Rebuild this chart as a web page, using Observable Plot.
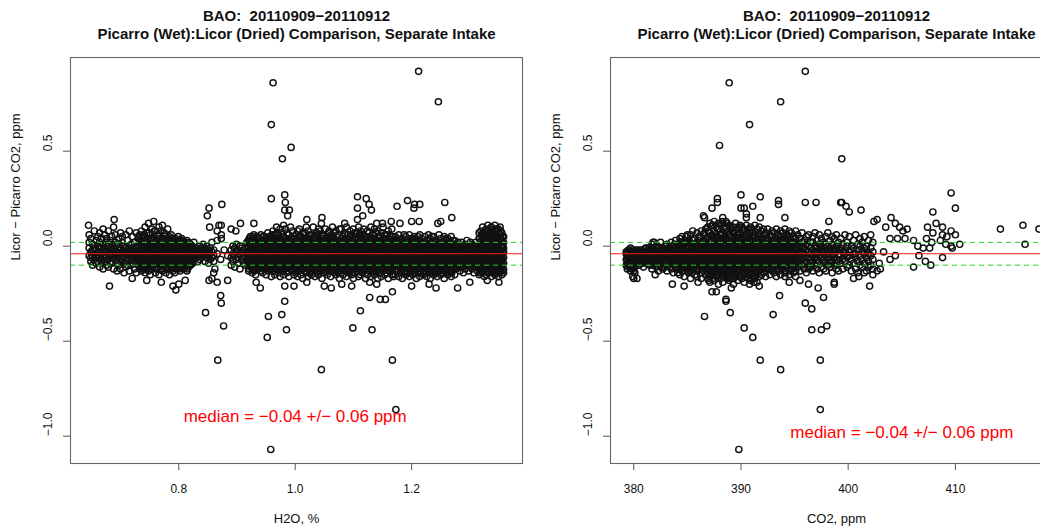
<!DOCTYPE html>
<html><head><meta charset="utf-8">
<script src="https://cdn.jsdelivr.net/npm/d3@7"></script>
<script src="https://cdn.jsdelivr.net/npm/@observablehq/plot@0.6"></script>
<style>
html,body{margin:0;padding:0;background:#fff;overflow:hidden}
#wrap{position:relative;width:1040px;height:527px;overflow:hidden;background:#fff}
#wrap svg{position:absolute;top:0}
#wrap svg text{white-space:pre}
</style></head><body><div id="wrap"></div>
<script>
// ---- text ----
const title1 = "BAO:  20110909\u221220110912";
const title2 = "Picarro (Wet):Licor (Dried) Comparison, Separate Intake";
const yLabel = "Licor \u2212 Picarro CO2, ppm";
const xLabelH2O = "H2O, %";
const xLabelCO2 = "CO2, ppm";
const median = -0.04;
const spread = 0.06;
const xTicksH2O = [0.8, 1.0, 1.2];
const xTicksCO2 = [380, 390, 400, 410];
const yTicks = [-1.0, -0.5, 0.0, 0.5];

// ---- H2O panel: columns [H2O in 0.001 %, then differences in 0.01 ppm] ----
const h2oColumns = [
[646,-1,6,-5,2],[649,-8,-3,4,-6],[652,-2,1,-10,-5],[655,8,-4,-1,-7],[658,3,-6,-2,-9],
[661,-3,5,-8,0,-5],[664,-1,-11,2,-6,7],[667,4,-4,-7,-1,-9],[670,-2,9,-5,1,-12],[673,6,-3,-8,-1,-6],
[676,-5,2,-10,-2,4],[679,0,-7,8,-3,-11],[682,-4,3,-6,-1,-9],[685,5,-2,-8,-5,1],[688,-1,10,-6,-3,-12],
[691,2,-4,-7,-2,6],[694,-3,-9,1,-5,-13],[697,4,-2,-6,-10,1],[700,-1,7,-4,-8,-12],[703,2,-3,-7,-5,5],
[706,-2,0,-9,-5,-14],[709,6,-1,-4,-8,-11],[712,3,-2,-6,-10,-4],[715,-1,8,-5,-3,-13],[718,1,-4,-7,-2,-10],
[721,5,-3,-6,-9,-1],[724,-2,2,-8,-5,-12],[727,7,-1,-4,-7,-14],[730,0,-3,-6,-10,4,-2],
[733,3,-2,-5,-8,-11,6,-4],[736,1,-4,-7,-10,8,-1,-13],[739,5,-1,-3,-6,-9,-12,2],[742,2,-2,-5,-8,10,-4,-14],
[745,7,0,-3,-6,-9,-11,-1],[748,4,-1,-4,-7,-10,12,-13],[751,1,-2,-5,-8,6,-3,-15],[754,9,3,-1,-4,-7,-10,-12],
[757,5,0,-3,-6,-9,13,-2],[760,2,-2,-5,-8,-11,8,-14],[763,6,1,-4,-6,-9,-3,-12],[766,3,-1,-3,-7,-10,10,-15],
[769,8,0,-2,-5,-8,-12,-4],[772,4,-2,-4,-6,-9,11,-13],[775,1,-1,-5,-7,-10,7,-3],[778,6,2,-3,-6,-8,-11,-14],
[781,3,-1,-4,-5,-9,9,-12],[784,5,0,-2,-6,-10,-7,-15],[787,2,-3,-5,-8,-11,6,-1],[790,4,-1,-4,-6,-9,-13,-2],
[793,1,-2,-5,-7,-10,3,-14],[796,3,0,-3,-6,-8,-12,-4],[799,5,-1,-4,-7,-9,-11,1],[802,2,-2,-3,-5,-8,-13,-6],
[805,0,-1,-4,-7,-10,4,-3],[808,3,-3,-5,-6,-9,-12,-1],[811,1,-2,-4,-8,-11,2,-6],[814,-1,-3,-5,-7,-10,3,-13],
[817,2,0,-4,-6,-9,-2,-11],[820,-2,-3,-5,-8,1,-10],[823,0,-4,-6,-2,-9],[826,-1,-3,-7,2,-5],
[830,-3,-6,-1],[833,-2,-5,-8],[836,0,-4,-7],[839,-3,-6,-1],[842,-2,-5,1],[845,-4,-8,-1],[848,-3,-6,0],
[851,-5,-2,-9],[854,-1,-4,-7],[857,-3,-6,2],[860,-2,-5,-8],[866,-4,3],[872,-7],[878,-2],[884,-5],
[890,-2,-6,-10],[893,-4,0,-8],[896,-1,-5,-11],[899,-3,-7,1],[902,-2,-6,-9],[905,0,-4,-12],[908,-3,-7,-1],
[911,-5,-2,-9],[914,-1,-6,-10],[917,-4,-8,2],
[920,3,-1,-4,-7,-10,-13,-3],[923,1,-2,-5,-8,-11,5,-6],[926,4,0,-3,-6,-9,-14,-2],[929,2,-1,-4,-7,-12,6,-5],
[932,0,-3,-5,-8,-10,3,-15],[935,5,-1,-4,-6,-9,-12,-2],[938,2,-2,-3,-7,-11,4,-6],[941,6,0,-4,-5,-8,-13,-1],
[944,3,-1,-3,-6,-10,-14,-4],[947,1,-2,-5,-7,-9,5,-12],[950,4,0,-3,-6,-8,-11,-15],[953,2,-1,-4,-5,-10,7,-13],
[956,5,-2,-3,-7,-9,-12,1],[959,3,0,-4,-6,-11,-16,-2],
[962,8,2,-1,-4,-7,-10,-13,-5],[965,4,0,-3,-6,-8,-11,6,-15],[968,10,3,-2,-4,-7,-9,-12,-1],[971,6,1,-3,-5,-8,-11,-14,-2],
[974,2,-1,-4,-6,-9,-12,9,-16],[977,7,3,-2,-5,-7,-10,-13,0],[980,5,0,-3,-6,-8,-11,11,-15],[983,9,2,-1,-4,-7,-9,-12,-5],
[986,3,-1,-4,-6,-10,-14,7,-2],[989,6,1,-2,-5,-8,-11,-16,-3],[992,4,0,-3,-6,-9,-12,10,-7],[995,8,2,-1,-4,-7,-10,-13,-5],
[998,5,-1,-3,-6,-8,-11,-15,1],
[1001,6,1,-2,-5,-8,-11,-14,-4],[1004,3,-1,-4,-6,-9,-12,8,-16],[1007,9,2,-3,-5,-7,-10,-13,0],[1010,5,0,-2,-6,-8,-11,-15,-4],
[1013,2,-1,-4,-7,-9,-12,7,-17],[1016,7,3,-3,-5,-8,-10,-13,-1],[1019,4,0,-2,-6,-9,-14,10,-5],[1022,8,1,-3,-4,-7,-11,-16,-2],
[1025,3,-1,-4,-6,-8,-12,6,-14],[1028,6,2,-2,-5,-9,-10,-15,0],[1031,10,4,-1,-4,-7,-11,-13,-6],[1034,5,0,-3,-6,-8,-12,-16,2],
[1037,7,1,-2,-5,-9,-10,-14,-4],[1040,3,-1,-4,-7,-8,-11,9,-15],[1043,8,2,-3,-5,-6,-10,-13,-1],[1046,4,0,-2,-6,-9,-12,-17,6],
[1049,6,1,-4,-5,-7,-11,-14,-2],[1052,9,3,-1,-4,-8,-10,-13,-6],[1055,2,-1,-3,-6,-9,-12,-15,5],[1058,7,0,-2,-5,-7,-11,8,-4],
[1061,5,2,-4,-6,-10,-13,-16,-1],[1064,10,3,-1,-3,-6,-9,-12,-5],[1067,4,0,-3,-7,-8,-11,-14,7],[1070,8,1,-2,-5,-9,-12,-15,-4],
[1073,6,-1,-4,-6,-7,-10,-13,2],[1076,3,2,-3,-5,-8,-11,-17,9],[1079,9,0,-2,-4,-7,-9,-14,-6],[1082,5,1,-1,-6,-10,-12,-15,-3],
[1085,7,3,-4,-5,-8,-11,-13,0],[1088,10,2,-2,-3,-7,-9,-16,-5],[1091,4,-1,-3,-6,-9,-12,6,-14],[1094,8,1,0,-5,-8,-10,-13,-4],
[1097,6,3,-2,-4,-7,-11,-15,-1],[1100,9,2,-3,-6,-9,-12,-17,-5],[1103,5,0,-1,-4,-8,-10,-14,7],[1106,7,1,-2,-5,-6,-11,-13,-3],
[1109,10,4,-3,-4,-9,-12,-16,0],[1112,3,-1,-2,-6,-7,-10,-15,8],[1115,6,2,-4,-5,-8,-11,-14,-1],[1118,9,0,-1,-3,-7,-9,-13,-6],
[1121,5,1,-2,-6,-10,-12,-17,4],[1124,8,3,-3,-4,-8,-11,-15,-5],[1127,7,0,-1,-5,-6,-10,-13,-2],[1130,4,2,-4,-7,-9,-12,-16,10],
[1133,6,-1,-2,-3,-8,-11,-14,-5],[1136,9,1,-3,-5,-7,-9,-15,0],[1139,3,0,-1,-6,-10,-12,-13,7],[1142,8,2,-2,-4,-8,-11,-17,-6],
[1145,5,-1,-4,-5,-7,-10,-14,1],[1148,7,3,-3,-6,-9,-12,-16,-2],[1151,10,1,-1,-4,-8,-11,-13,-5],[1154,4,0,-2,-5,-6,-10,-15,6],
[1157,6,2,-3,-7,-9,-12,-14,-1],[1160,8,-1,-4,-5,-8,-11,-17,3],[1163,5,1,-2,-3,-7,-9,-13,-6],[1166,9,0,-1,-6,-10,-12,-15,2],
[1169,3,2,-3,-4,-8,-11,-16,-5],
[1172,5,0,-3,-6,-9,-12,-15],[1175,2,-2,-4,-7,-10,-13,4],[1178,6,1,-1,-5,-8,-11,-16],[1181,3,-1,-3,-6,-9,-14,-4],
[1184,4,0,-2,-7,-10,-12,-17],[1187,1,-2,-4,-5,-8,-11,6],[1190,5,2,-3,-6,-9,-13,-15],[1193,3,-1,-1,-4,-7,-10,-14],
[1196,6,0,-2,-5,-8,-12,-16],[1199,2,-3,-4,-6,-10,-11,4],[1202,4,1,-1,-7,-9,-13,-15],[1205,5,0,-2,-4,-8,-10,-14],
[1208,3,-1,-3,-5,-6,-12,-17],[1211,1,-2,-4,-7,-9,-11,5],[1214,6,2,-1,-5,-8,-13,-16],[1217,4,0,-3,-6,-10,-12,-4],
[1220,2,-1,-2,-4,-7,-11,-15],[1223,5,1,-4,-6,-9,-14,-2],[1226,3,0,-1,-5,-8,-10,-16],[1229,6,-2,-3,-7,-9,-12,-13],
[1232,4,1,-2,-4,-6,-11,-17],[1235,2,-1,-3,-6,-10,-13,5],[1238,5,0,-4,-5,-8,-12,-15],[1241,3,2,-1,-7,-9,-11,-14],
[1244,1,-2,-3,-4,-8,-10,-16],[1247,6,0,-2,-6,-9,-13,-5],[1250,4,1,-4,-5,-7,-12,-15],[1253,2,-1,-3,-6,-10,-11,-14],
[1256,5,0,-1,-4,-8,-13,-17],[1259,3,-2,-4,-7,-9,-12,4],[1262,4,1,-2,-5,-6,-10,-15],[1265,2,0,-3,-6,-8,-11,-14],
[1268,5,-1,-4,-5,-9,-13,-16],[1271,1,-2,-1,-7,-10,-12,3],[1274,3,0,-3,-4,-8,-11,-15],
[1277,1,-3,-6,-9,-12],[1280,-1,-4,-7,-10,2],[1283,0,-2,-5,-8,-13],[1286,2,-3,-6,-11,-4],[1289,-1,-5,-7,-9,-14],
[1292,1,-2,-4,-8,-12],[1295,3,-3,-6,-10,-1],[1298,0,-4,-5,-9,-13],[1301,-2,-3,-7,-11,2],[1304,1,-1,-5,-8,-12],
[1307,-1,-4,-6,-10,-14],[1310,2,-2,-7,-9,0],[1313,0,-3,-5,-11,-13],
[1316,4,0,-3,-6,-9,-12,7,-15],[1319,8,2,-2,-5,-8,-11,-14,-1],[1322,10,5,1,-4,-7,-10,-13,-3],[1325,6,3,-1,-3,-6,-9,-12,-16],
[1328,9,1,-2,-5,-8,-11,-15,4],[1331,11,6,0,-4,-7,-10,-13,-2],[1334,7,2,-3,-6,-9,-12,-14,5],[1337,10,4,-1,-5,-8,-11,-16,1],
[1340,8,3,0,-3,-6,-10,-13,-4],[1343,11,5,-2,-4,-7,-9,-12,-15],[1346,6,1,-1,-5,-8,-11,-14,9],[1349,9,4,-3,-6,-9,-12,-16,0],
[1352,10,2,-2,-4,-7,-10,-13,6],[1355,7,3,0,-5,-8,-11,-15,-1],[1358,5,-1,-3,-6,-9,-12,-14,2]
];
// further H2O readings inside the densest part of the cloud (same units)
const h2oDenseColumns = [
[731,0,-3,-7,-10,5],[734,-2,-6,-9,2,-12],[737,4,-1,-5,-8,-11],[740,0,-3,-7,-10,6],[743,-2,-5,-9,3,-12],
[746,2,-1,-4,-8,-11],[749,0,-3,-6,-9,7],[752,-2,-5,-10,4,-12],[755,3,-1,-4,-8,-11],[758,1,-3,-7,-9,8],
[761,-1,-5,-8,3,-12],[764,4,0,-4,-7,-11],[767,1,-3,-6,-9,6],[770,-1,-5,-8,3,-12],[773,2,0,-4,-7,-11],
[776,1,-3,-6,-9,5],[779,-1,-4,-8,3,-12],[782,2,0,-3,-7,-11],[785,1,-3,-6,-9,4],[788,-1,-4,-8,2,-12],
[791,2,0,-3,-7,-11],[794,0,-2,-6,-9,4],[797,-1,-4,-8,2,-11],[800,1,-3,-6,-9,-12],[803,0,-2,-7,-10,3],
[806,-2,-4,-8,1,-11],[809,0,-3,-6,-9,2],[812,-1,-4,-7,-10,1],[815,0,-2,-6,-9,-12],[818,-1,-4,-7,1,-10],
[821,0,-3,-6,-8],[824,-2,-4,-7,-9],
[921,1,-3,-6,-9,-12,4],[924,-1,-4,-7,-10,3,0],[927,2,-2,-5,-9,-12,5],[930,0,-3,-6,-10,-13,3],[933,-1,-4,-8,-11,2,-2],
[936,1,-2,-5,-9,-12,4],[939,0,-3,-7,-10,2,-1],[942,-2,-5,-8,-11,3,1],[945,1,-2,-6,-9,-12,5],[948,0,-3,-7,-10,3,-1],
[951,-1,-4,-8,-11,2,1],[954,1,-3,-6,-9,-12,4],[957,-1,-4,-7,-10,3,0],[960,2,-2,-5,-9,-12,6],[963,0,-3,-6,-10,-13,5],
[966,-1,-4,-8,-11,2,3],[969,1,-2,-5,-9,-12,7],[972,0,-3,-7,-10,4,-1],[975,-2,-5,-8,-11,3,1],[978,1,-3,-6,-9,-12,5],
[981,0,-4,-7,-10,2,-2],[984,-1,-3,-5,-8,-11,4],[987,2,-2,-6,-9,-13,0],[990,0,-4,-7,-10,3,-1],[993,-1,-3,-5,-8,-12,2],
[996,1,-4,-6,-9,-11,4],
[1002,0,-3,-7,-10,-13,4],[1005,-2,-5,-8,-11,2,-1],[1008,1,-3,-6,-9,-12,5],[1011,-1,-4,-7,-10,3,0],
[1014,2,-2,-5,-9,-12,6],[1017,0,-3,-6,-10,-13,3],[1020,-1,-4,-8,-11,2,1],[1023,1,-2,-5,-9,-12,4],
[1026,0,-3,-7,-10,-14,3],[1029,-2,-5,-8,-11,1,-1],[1032,1,-3,-6,-9,-12,5],[1035,-1,-4,-7,-10,3,0],
[1038,2,-2,-5,-8,-12,6],[1041,0,-3,-6,-10,-13,4],[1044,-1,-4,-8,-11,2,1],[1047,1,-2,-5,-9,-12,5],
[1050,0,-3,-7,-10,-14,3],[1053,-2,-5,-8,-11,2,-1],[1056,1,-3,-6,-9,-12,4],[1059,-1,-4,-7,-10,3,0],
[1062,2,-2,-5,-8,-12,6],[1065,0,-3,-6,-10,-13,4],[1068,-1,-4,-8,-11,2,1],[1071,1,-2,-5,-9,-12,5],
[1074,0,-3,-7,-10,-14,3],[1077,-2,-5,-8,-11,1,-1],[1080,1,-3,-6,-9,-12,4],[1083,-1,-4,-7,-10,3,0],
[1086,2,-2,-5,-8,-12,6],[1089,0,-3,-6,-10,-13,4],[1092,-1,-4,-8,-11,2,1],[1095,1,-2,-5,-9,-12,5],
[1098,0,-3,-7,-10,-14,3],[1101,-2,-5,-8,-11,2,-1],[1104,1,-3,-6,-9,-12,4],[1107,-1,-4,-7,-10,3,0],
[1110,2,-2,-5,-8,-12,6],[1113,0,-3,-6,-10,-13,4],[1116,-1,-4,-8,-11,2,1],[1119,1,-2,-5,-9,-12,5],
[1122,0,-3,-7,-10,-14,3],[1125,-2,-5,-8,-11,1,-1],[1128,1,-3,-6,-9,-12,4],[1131,-1,-4,-7,-10,3,0],
[1134,2,-2,-5,-8,-12,6],[1137,0,-3,-6,-10,-13,4],[1140,-1,-4,-8,-11,2,1],[1143,1,-2,-5,-9,-12,5],
[1146,0,-3,-7,-10,-14,3],[1149,-2,-5,-8,-11,2,-1],[1152,1,-3,-6,-9,-12,4],[1155,-1,-4,-7,-10,3,0],
[1158,2,-2,-5,-8,-12,6],[1161,0,-3,-6,-10,-13,4],[1164,-1,-4,-8,-11,2,1],[1167,1,-2,-5,-9,-12,5],
[1173,-1,-4,-7,-10,-13,2],[1176,0,-3,-6,-9,-12,1],[1179,-2,-5,-8,-11,3,0],[1182,1,-3,-6,-10,-13,-1],
[1185,-1,-4,-7,-9,-12,2],[1188,0,-2,-5,-8,-11,-14],[1191,-1,-4,-6,-10,1,-13],[1194,0,-3,-7,-9,-12,2],
[1197,-2,-5,-8,-11,-14,1],[1200,1,-3,-6,-9,-12,0],[1203,-1,-4,-7,-10,-13,3],[1206,0,-2,-5,-8,-11,-14],
[1209,-2,-4,-6,-9,-12,1],[1212,0,-3,-7,-10,-13,2],[1215,-1,-5,-8,-11,0,-14],[1218,1,-2,-6,-9,-12,-3],
[1221,-1,-4,-7,-10,-13,2],[1224,0,-3,-5,-8,-11,-14],[1227,-2,-4,-6,-9,-12,1],[1230,0,-3,-7,-10,-13,3],
[1233,-1,-5,-8,-11,0,-14],[1236,1,-2,-6,-9,-12,-3],[1239,-1,-4,-7,-10,-13,2],[1242,0,-3,-5,-8,-11,-14],
[1245,-2,-4,-6,-9,-12,1],[1248,0,-3,-7,-10,-13,2],[1251,-1,-5,-8,-11,0,-14],[1254,1,-2,-6,-9,-12,-3],
[1257,-1,-4,-7,-10,-13,2],[1260,0,-3,-5,-8,-11,-14],[1263,-2,-4,-6,-9,-12,1],[1266,0,-3,-7,-10,-13,2],
[1269,-1,-5,-8,-11,0,-14],[1272,1,-2,-6,-9,-12,-3],
[1278,-2,-5,-8,-11],[1281,0,-3,-6,-9],[1284,-1,-4,-7,-10],[1287,0,-2,-5,-8],[1290,-1,-3,-6,-10],[1293,-2,-4,-7,-9],
[1296,0,-2,-5,-8],[1299,-1,-3,-6,-10],[1302,0,-4,-7,-9],[1305,-2,-3,-6,-10],[1308,0,-2,-5,-8],[1311,-1,-4,-7,-10],
[1314,0,-3,-6,-9],
[1317,1,-2,-5,-8,-11,-14,4],[1320,3,-1,-4,-7,-10,-13,6],[1323,2,-2,-5,-8,-11,-14,7],[1326,0,-3,-6,-9,-12,4,8],
[1329,3,-1,-4,-7,-10,-13,6],[1332,2,-2,-5,-8,-11,-14,8],[1335,0,-3,-6,-9,-12,4,9],[1338,3,-1,-4,-7,-10,-13,6],
[1341,2,-2,-5,-8,-11,-14,7],[1344,0,-3,-6,-9,-12,3,9],[1347,3,-1,-4,-7,-10,-13,5],[1350,2,-2,-5,-8,-11,-14,7],
[1353,0,-3,-6,-9,-12,4,8],[1356,2,-1,-4,-7,-10,-13,5]
];
// isolated H2O points [H2O in 0.001 %, difference in 0.01 ppm]
const h2oScatter = [
[962,86],[1212,92],[1246,76],[959,64],[993,52],[978,46],[959,25],[982,27],[983,23],[982,19],[990,19],[987,16],
[1107,26],[1122,25],[1127,22],[1131,19],[1107,20],[1175,21],[1193,24],[1205,22],[1214,22],[1204,20],[1257,23],
[1269,15],[1046,15],[1116,16],[1107,14],[852,20],[849,16],[874,22],[869,11],[873,11],[689,14],[645,11],[929,12],
[906,12],[890,9],[1200,13],[1213,13],[1250,13],[1245,12],[1150,12],[1140,12],[1045,12],[1020,14],[1085,12],
[1165,13],[1180,12],[853,10],[866,8],[873,6],[873,4],[898,8],
[681,-21],[795,-23],[790,-21],[811,-18],[846,-35],[872,-26],[873,-30],[877,-42],[867,-60],[857,-17],[866,-19],
[884,-18],[852,-18],[954,-37],[952,-48],[977,-36],[985,-44],[982,-29],[982,-21],[998,-21],[958,-107],[1045,-65],
[1099,-43],[1132,-44],[1112,-34],[1128,-27],[1146,-28],[1155,-28],[1167,-24],[1167,-60],[1173,-86],[1279,-22],
[1242,-22],[1200,-21],[1050,-21],[1062,-22],[1080,-20],[1097,-21],[1140,-20],[1128,-19],[1300,-19],[1330,-18],
[745,-18],[770,-19],[800,-20],[720,-17],[933,-19],[940,-22],[1020,-19],[1230,-20],[1350,-19],[860,-14],[862,-12]
];

// ---- CO2 panel: columns [CO2 in 0.1 ppm, then differences in 0.01 ppm] ----
const co2Columns = [
[3793,-4,-7,-10,-3],[3795,-5,-2,-8,-11,-6],[3797,-3,-6,-9,-13,-4,-1],[3799,-4,-7,-10,-2,-12,-16],
[3801,-5,-3,-8,-11,-14,-6],[3803,-4,-7,-2,-9,-17],[3805,-6,-3,-8,-10],[3807,-4,-5,-9,-2],[3809,-3,-7,-6,-11],
[3811,-5,-4,-8,-1],[3813,-2,-6,-9,-4],
[3815,-1,-4,-7,-10,-5],[3817,1,-3,-6,-9,-12],[3819,-2,-5,-8,2,-4],[3821,0,-3,-7,-11,-6],[3823,-1,-4,-6,-9,-13],
[3825,2,-2,-5,-8,-10],[3827,-1,-3,-7,-12,-4],[3829,0,-5,-6,-9,-11],[3831,1,-2,-4,-8,-13],[3833,-1,-4,-7,-10,-3],
[3835,2,-3,-5,-9,-12],[3837,0,-2,-6,-8,-14],[3839,3,-1,-4,-7,-11],
[3841,1,-2,-5,-8,-11,-14,-4],[3843,4,0,-3,-6,-9,-12,-15],[3845,2,-1,-4,-7,-10,-13,5],[3847,3,-2,-5,-6,-9,-16,-3],
[3849,5,0,-3,-7,-11,-12,-1],[3851,2,-1,-4,-8,-10,-14,-6],[3853,6,1,-2,-5,-9,-13,-17],[3855,3,-3,-4,-7,-11,-12,0],
[3857,4,0,-1,-6,-8,-15,-5],[3859,7,2,-3,-5,-10,-13,-16],[3861,5,-1,-2,-7,-9,-12,-4],[3863,8,1,-4,-6,-8,-14,-17],
[3865,6,3,-1,-5,-11,-13,-3],[3867,9,2,-2,-4,-7,-10,-15],
[3869,10,5,1,-2,-5,-8,-11,-14,-17,-4],[3871,12,7,2,-1,-4,-7,-10,-13,-16,-19],[3873,11,6,3,0,-3,-6,-9,-12,-15,-2],
[3875,13,8,4,-1,-4,-6,-8,-11,-14,-18],[3877,10,5,2,-2,-5,-7,-10,-13,-16,1],[3879,12,9,3,0,-3,-6,-9,-12,-15,-20],
[3881,11,6,1,-1,-4,-7,-10,-13,-17,-2],[3883,13,7,4,-2,-5,-8,-11,-14,-16,-19],[3885,10,5,2,0,-3,-6,-9,-12,-15,-4],
[3887,12,8,3,-1,-4,-7,-10,-13,-17,-1],[3889,11,6,1,-2,-5,-8,-11,-14,-16,-18],[3891,9,4,2,-1,-3,-6,-9,-12,-15,-4],
[3893,10,7,3,0,-4,-7,-10,-13,-17,-20],[3895,12,5,1,-2,-5,-8,-11,-14,-16,-3],[3897,9,6,4,-1,-3,-6,-9,-12,-15,-18],
[3899,11,7,2,0,-4,-7,-10,-13,-16,-2],[3901,10,4,1,-2,-5,-8,-11,-14,-17,-4],[3903,8,5,3,-1,-3,-6,-9,-12,-15,-19],
[3905,11,6,2,0,-4,-7,-10,-13,-16,-1],[3907,9,4,1,-2,-5,-8,-11,-14,-17,-3],[3909,10,7,3,-1,-3,-6,-9,-12,-15,-18],
[3911,8,5,2,0,-4,-7,-10,-13,-16,-2],[3913,11,6,1,-2,-5,-8,-11,-14,-17,-4],[3915,9,4,3,-1,-3,-6,-9,-12,-15,-19],
[3917,10,6,2,0,-4,-7,-10,-13,-16,-1],
[3919,8,4,0,-3,-6,-9,-12,-15],[3921,9,5,1,-2,-5,-8,-11,-14],[3923,7,3,-1,-4,-7,-10,-13,-16],[3925,9,4,0,-3,-5,-8,-11,-2],
[3927,6,2,1,-2,-6,-9,-12,-15],[3929,8,5,-1,-4,-7,-10,-13,-3],[3931,7,3,0,-3,-5,-8,-11,-14],[3933,9,4,1,-2,-6,-9,-12,-16],
[3935,6,2,-1,-4,-7,-10,-13,-1],[3937,8,5,0,-3,-5,-8,-11,-15],[3939,7,3,1,-2,-6,-9,-12,-4],[3941,9,4,-1,-4,-7,-10,-14,-16],
[3943,6,2,0,-3,-5,-8,-11,-2],[3945,8,5,1,-2,-6,-9,-13,-15],[3947,7,3,-1,-4,-7,-10,-12,-3],[3949,5,2,0,-3,-5,-8,-11,-14],
[3951,8,4,1,-2,-6,-9,-13,-16],
[3953,6,1,-2,-5,-8,-11],[3955,4,0,-3,-6,-9,-13],[3957,7,2,-1,-4,-7,-10],[3959,3,-1,-4,-6,-9,-12],[3961,5,1,-2,-5,-8,-14],
[3963,6,0,-3,-6,-10,-12],[3965,2,-1,-4,-7,-9,-11],[3967,5,2,-2,-5,-8,-13],[3969,7,0,-3,-6,-10,-4],[3971,3,-1,-4,-7,-9,-12],
[3973,6,1,-2,-5,-8,-14],[3975,4,0,-3,-6,-11,-1],[3977,2,-2,-4,-7,-9,-12],[3979,5,1,-1,-5,-8,-13],[3981,7,0,-3,-6,-10,-4],
[3983,3,-1,-2,-7,-9,-11],[3985,5,1,-4,-5,-8,-14],[3987,4,-1,-3,-6,-10,-2],[3989,6,0,-2,-7,-9,-12],[3991,2,-2,-4,-5,-8,-13],
[3993,4,-1,-5,-9],[3995,1,-3,-7,-12],[3997,6,-2,-4,-8],[3999,2,0,-6,-11],[4001,5,-3,-5,-10],[4003,0,-2,-7,-13],
[4005,3,-1,-4,-9],[4007,6,-4,-6,-12],[4009,1,-2,-8,-14],[4011,4,0,-5,-10],[4013,2,-3,-7,-11],[4015,5,-1,-4,-9],
[4017,0,-2,-6,-13],[4019,3,-4,-8,-11],[4021,6,-1,-5,-10],[4023,2,-3,-7,-12]
];
// further CO2 readings inside the densest part of the cloud (same units)
const co2DenseColumns = [
[3794,-3,-6,-9,-12],[3796,-4,-7,-10,-2],[3798,-5,-8,-3,-11],[3800,-3,-6,-9,-13],[3802,-4,-7,-10,-2],
[3804,-5,-8,-3],[3806,-4,-7,-2],[3808,-5,-8,-3],[3810,-3,-6,-9],[3812,-4,-7,-1],
[3816,-2,-5,-8],[3818,-1,-4,-7,-10],[3820,-3,-6,-9],[3822,-2,-5,-8,0],[3824,-3,-6,-9],[3826,-1,-4,-7,-11],
[3828,-2,-5,-8],[3830,-3,-6,-9,0],[3832,-1,-4,-7],[3834,-2,-5,-8,-11],[3836,-3,-6,-9],[3838,-1,-4,-7,1],[3840,-2,-5,-8,-12],
[3842,0,-3,-6,-9,-12],[3844,-1,-4,-7,-10,2],[3846,1,-2,-5,-8,-11],[3848,-1,-4,-8,-10,3],[3850,0,-3,-6,-9,-13],
[3852,2,-1,-4,-7,-11],[3854,0,-3,-6,-9,-14],[3856,-1,-4,-7,-10,4],[3858,1,-2,-5,-8,-12],[3860,-1,-4,-6,-9,3],
[3862,0,-3,-7,-11,5],[3864,2,-2,-5,-8,-12],[3866,0,-3,-6,-9,7],[3868,-1,-4,-7,-11,4],
[3870,8,3,-1,-6,-9,-12,-15,-18],[3872,-2,-5,-8,-11,-14,5],[3874,11,5,0,-5,-7,-10,-13,-17],[3876,0,-3,-6,-9,-12,3],
[3878,9,4,-1,-4,-8,-11,-14,-16],[3880,-1,-4,-7,-10,-13,6],[3882,12,6,-1,-3,-6,-9,-12,-15],[3884,1,-2,-5,-8,-11,4],
[3886,9,3,1,-3,-7,-10,-13,-16],[3888,-2,-5,-8,-11,-14,7],[3890,10,5,0,-4,-7,-10,-13,-17],[3892,0,-3,-6,-9,-12,3],
[3894,8,2,-1,-3,-6,-9,-12,-15],[3896,-1,-4,-7,-10,-13,6],[3898,10,4,0,-4,-7,-10,-13,-16],[3900,1,-2,-5,-8,-11,4],
[3902,9,3,-1,-3,-6,-9,-12,-14],[3904,-2,-5,-8,-11,-14,5],[3906,7,2,0,-3,-6,-9,-12,-15],[3908,0,-3,-6,-9,-12,3],
[3910,9,3,-1,-5,-8,-11,-14,-17],[3912,-1,-4,-7,-10,-13,5],[3914,7,2,0,-3,-6,-9,-11,-14],[3916,1,-2,-5,-8,-11,3],
[3920,2,-1,-4,-7,-10],[3922,0,-3,-6,-9,6],[3924,1,-2,-5,-8,-12],[3926,-1,-4,-7,-10,3],[3928,0,-3,-6,-9,5],
[3930,1,-2,-5,-8,-12],[3932,-1,-4,-7,-10,2],[3934,0,-3,-6,-9,6],[3936,1,-2,-5,-8,-12],[3938,-1,-4,-7,-10,3],
[3940,0,-3,-6,-9,5],[3942,1,-2,-5,-8,-13],[3944,-1,-4,-7,-10,3],[3946,0,-3,-6,-9,4],[3948,1,-2,-5,-8,-12],
[3950,-1,-4,-7,-10,2]
];
// isolated CO2 points [CO2 in 0.1 ppm, difference in 0.01 ppm]
const co2Scatter = [
[3960,92],[3889,86],[3937,76],[3908,64],[3880,53],[3994,46],[3900,27],[3878,25],[3878,23],[3918,26],[3935,24],
[3935,22],[3960,23],[3970,23],[3994,23],[3998,21],[4001,18],[4012,19],[4096,28],[4100,20],[4079,18],[4040,15],
[4082,12],[4088,10],[4142,9],[4163,11],[4165,1],[4178,9],[4096,8],[4104,1],[4096,0],[3900,20],[3903,20],[3911,21],
[3905,17],[3873,20],[3866,15],[3818,2],[3814,-1],[3850,6],[3855,8],[3865,16],[3883,15],[3886,13],[3905,15],
[3918,15],[3941,15],[3982,13],[3993,23],
[4024,13],[4027,14],[4035,10],[4044,12],[4048,10],[4051,8],[4055,9],[4053,4],[4061,3],[4065,0],[4074,10],
[4079,7],[4088,6],[4092,5],[4100,6],[4097,-1],[4073,4],[4070,-1],[4076,-1],[4078,2],[4066,-5],[4072,-8],
[4088,-6],[4061,-11],[4039,-7],[4044,-5],[4046,4],[4039,4],[4033,-3],[4029,-9],[4030,-12],[4077,-10],[4091,1],[4086,3],
[3898,-107],[3974,-86],[3974,-60],[3918,-60],[3937,-65],[3911,-48],[3903,-43],[3966,-44],[3975,-44],[3980,-42],
[3930,-36],[3890,-35],[3866,-37],[3966,-33],[3960,-30],[3977,-27],[3886,-28],[3886,-29],[3936,-26],[3972,-22],
[3891,-22],[3873,-24],[3877,-24],[3917,-21],[3908,-20],[3912,-19],[3987,-19],[3987,-20],[4020,-21],[4005,-17],
[4010,-16],[4015,-14],[4023,-15],[4027,-13],[3836,-20],[3847,-21],[3800,-17],[3820,-15],[3860,-19],[3945,-19],
[3955,-18],[3963,-20]
];

// ---- build tables ----
const yScaleUnit = 100;
function toPoints(columnSets, scatter, xUnit) {
  const pts = columnSets.flat().flatMap(([x, ...ys]) => ys.map(y => ({x: x / xUnit, y: y / yScaleUnit})));
  return pts.concat(scatter.map(([x, y]) => ({x: x / xUnit, y: y / yScaleUnit})));
}
const h2oPoints = toPoints([h2oColumns, h2oDenseColumns], h2oScatter, 1000);
const co2Points = toPoints([co2Columns, co2DenseColumns], co2Scatter, 10);

const fmtNum = v => (v < 0 ? "\u2212" : "") + Math.abs(v).toFixed(1);
const fmtNum0 = v => (v < 0 ? "\u2212" : "") + Math.abs(v).toFixed(0);
const medianText = `median = ${median < 0 ? "\u2212" : ""}${Math.abs(median).toFixed(2)} +/\u2212 ${spread.toFixed(2)} ppm`;

const yDomain = [-1.1437, 0.993];
const FONT = "'Liberation Sans', Arial, Helvetica, sans-serif";

function panel({points, xDomain, xTicks, xFmt, xLabel, note}) {
  return Plot.plot({
    width: 540, height: 527,
    marginLeft: 70, marginRight: 18, marginTop: 57, marginBottom: 64,
    style: {fontFamily: FONT, fontSize: "12px", background: "white", overflow: "visible"},
    x: {domain: xDomain},
    y: {domain: yDomain},
    marks: [
      Plot.dot(points, {x: "x", y: "y", r: 3.1, stroke: "#111", strokeWidth: 1.45, fill: "none"}),
      Plot.ruleY([median], {stroke: "#ff1a1a", strokeWidth: 1.1}),
      Plot.ruleY([median + spread, median - spread], {stroke: "#1ed41e", strokeWidth: 1, strokeDasharray: "5,4"}),
      Plot.frame({stroke: "#666", strokeWidth: 1.1}),
      Plot.axisX({ticks: xTicks, tickSize: 7, tickFormat: () => "", label: null, stroke: "#555"}),
      Plot.axisY({ticks: yTicks, tickSize: 7, tickFormat: () => "", label: null, stroke: "#555"}),
      Plot.text(xTicks, {x: d => d, frameAnchor: "bottom", dy: 25.5, text: xFmt, fontSize: 12, fill: "#111", lineAnchor: "middle"}),
      Plot.text(yTicks, {y: d => d, frameAnchor: "left", dx: -22.5, rotate: -90, text: fmtNum, fontSize: 12, fill: "#111", lineAnchor: "middle"}),
      Plot.text([xLabel], {frameAnchor: "bottom", dy: 55.5, text: d => d, fontSize: 13, fill: "#111", lineAnchor: "middle"}),
      Plot.text([yLabel], {frameAnchor: "left", dx: -55, rotate: -90, text: d => d, fontSize: 13, fill: "#111", lineAnchor: "middle"}),
      Plot.text([title1], {frameAnchor: "top", dy: -41, text: d => d, fontSize: 15, fontWeight: "bold", fill: "#111", lineAnchor: "middle"}),
      Plot.text([title2], {frameAnchor: "top", dy: -23, text: d => d, fontSize: 15, fontWeight: "bold", fill: "#111", lineAnchor: "middle"}),
      Plot.text([note], {x: "x", y: "y", text: "text", fontSize: 17, fill: "#ff0000", lineAnchor: "middle"})
    ]
  });
}

const left = panel({
  points: h2oPoints, xDomain: [0.614, 1.3905], xTicks: xTicksH2O, xFmt: fmtNum, xLabel: xLabelH2O,
  note: {x: 1.0, y: -0.895, text: medianText}
});
const right = panel({
  points: co2Points, xDomain: [377.83, 419.99], xTicks: xTicksCO2, xFmt: fmtNum0, xLabel: xLabelCO2,
  note: {x: 405.0, y: -0.98, text: medianText}
});
left.style.left = "0px";
right.style.left = "540px";
const wrap = document.getElementById("wrap");
wrap.appendChild(left);
wrap.appendChild(right);
</script></body></html>
